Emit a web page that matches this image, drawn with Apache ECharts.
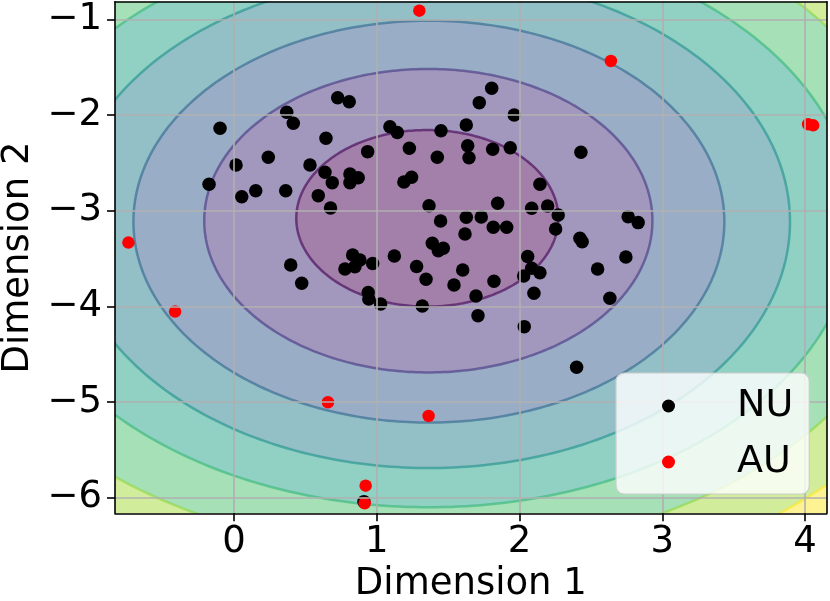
<!DOCTYPE html>
<html><head><meta charset="utf-8">
<script src="https://cdn.jsdelivr.net/npm/echarts@6/dist/echarts.min.js"></script>
<style>html,body{margin:0;padding:0;background:#fff}#c{width:830px;height:601px}</style>
</head><body><div id="c"></div>
<script>
// ---- data ----
const xTicks = [0, 1, 2, 3, 4];
const yTicks = [-6, -5, -4, -3, -2, -1];
const seriesNames = ['NU', 'AU'];

const nuX = [-0.175,-0.098,0.014,0.240,0.054,0.152,0.362,0.369,0.415,0.397,
  0.474,0.532,0.637,0.644,0.590,0.676,0.688,0.726,0.807,0.812,
  0.870,0.812,0.936,0.777,0.831,0.847,0.882,0.971,0.940,0.944,
  1.027,1.123,1.092,1.144,1.228,1.190,1.244,1.279,1.345,1.319,
  1.366,1.424,1.450,1.447,1.389,1.431,1.466,1.541,1.602,1.627,
  1.637,1.646,1.627,1.618,1.732,1.695,1.709,1.718,1.805,1.812,
  1.816,1.910,1.821,1.847,1.935,1.963,2.029,2.085,2.143,2.033,
  2.057,2.101,2.085,2.197,2.271,2.253,2.143,2.400,2.430,2.423,
  2.439,2.547,2.633,2.745,2.761,2.831,0.910];
const nuY = [-2.724,-2.139,-2.522,-2.442,-2.854,-2.791,-2.791,-1.972,-2.087,-3.567,
  -3.759,-2.522,-2.599,-2.243,-2.843,-2.972,-2.707,-1.819,-1.861,-2.617,
  -2.655,-2.707,-2.383,-3.609,-3.463,-3.585,-3.515,-3.552,-3.855,-3.923,
  -3.975,-3.473,-2.122,-2.183,-2.348,-2.700,-2.651,-3.583,-3.717,-3.996,
  -2.948,-2.442,-2.164,-3.108,-3.341,-3.419,-3.393,-3.776,-3.620,-2.105,
  -2.321,-2.446,-3.069,-3.243,-3.066,-3.891,-4.097,-1.871,-1.721,-2.358,
  -3.173,-3.173,-3.738,-2.923,-2.342,-2.000,-3.682,-3.602,-3.648,-4.212,
  -3.479,-3.863,-2.975,-2.951,-3.045,-3.191,-2.724,-4.636,-2.390,-3.288,
  -3.324,-3.609,-3.915,-3.484,-3.063,-3.125,-6.041];

const auX = [1.298, 2.640, 4.022, 4.057, -0.740, -0.413, 0.658, 1.363, 0.922, 0.915];
const auY = [-0.910, -1.436, -2.097, -2.108, -3.334, -4.055, -5.002, -5.145, -5.874, -6.058];

// contour levels (inner -> outer): centre and semi-axes in data units
const levelCx = [1.354, 1.361, 1.365, 1.365, 1.365, 1.365, 1.365];
const levelCy = [-3.080, -3.105, -3.115, -3.115, -3.115, -3.115, -3.115];
const levelRx = [0.918, 1.570, 2.070, 2.530, 2.985, 3.450, 3.910];
const levelRy = [0.923, 1.586, 2.100, 2.575, 2.985, 3.460, 3.920];

// ---- styles ----
const bandColors = ['#a280aa','#a298be','#9aadc6','#93bfc6','#90d1c3','#a5e0b6','#d1ed9b','#fef392'];
const lineColors = ['rgba(68,1,84,0.62)','rgba(69,55,129,0.62)','rgba(49,104,142,0.62)','rgba(33,145,140,0.62)',
  'rgba(53,183,121,0.62)','rgba(144,215,67,0.62)','rgba(253,231,37,0.62)'];
const FONT = 'DejaVu Sans';
const FS = 37;
const xMin = -0.834, xMax = 4.152, yMin = -6.163, yMax = -0.816;

const zip = (a, b) => a.map((v, i) => [v, b[i]]);
const minusFmt = v => (v < 0 ? '\u2212' : '') + Math.abs(v);

// draw outer levels first
const contourOrder = [-1];
for (let k = levelRx.length - 1; k >= 0; k--) contourOrder.push(k);

function renderContour(params, api) {
  const k = api.value(0);
  const cs = params.coordSys;
  if (k < 0) {
    return {type: 'rect', shape: {x: cs.x, y: cs.y, width: cs.width, height: cs.height},
      style: {fill: bandColors[bandColors.length - 1]}};
  }
  const pts = [];
  const N = 360;
  for (let i = 0; i < N; i++) {
    const a = i / N * 2 * Math.PI;
    pts.push(api.coord([levelCx[k] + levelRx[k] * Math.cos(a), levelCy[k] + levelRy[k] * Math.sin(a)]));
  }
  return {type: 'polygon', shape: {points: pts},
    style: {fill: bandColors[k], stroke: lineColors[k], lineWidth: 2.5}};
}

const axisCommon = {
  type: 'value',
  z: 3,
  axisLine: {show: true, onZero: false, lineStyle: {color: '#000', width: 1.6}},
  axisTick: {show: true, length: 8, lineStyle: {color: '#000', width: 1.6}},
  splitLine: {show: true, lineStyle: {color: '#b0b0b0', width: 1.6}},
  axisLabel: {color: '#000', fontFamily: FONT, fontSize: FS, formatter: minusFmt},
  nameTextStyle: {color: '#000', fontFamily: FONT, fontSize: FS}
};

const chart = echarts.init(document.getElementById('c'), null, {renderer: 'canvas'});
chart.setOption({
  animation: false,
  backgroundColor: '#fff',
  grid: {left: 115, top: 1.7, right: 3.3, bottom: 87.7, outerBoundsMode: 'none', containLabel: false},
  xAxis: [
    Object.assign({}, axisCommon, {
      min: xMin, max: xMax, position: 'bottom',
      axisTick: Object.assign({}, axisCommon.axisTick, {customValues: xTicks}),
      axisLabel: Object.assign({}, axisCommon.axisLabel, {customValues: xTicks, margin: 11}),
      name: 'Dimension 1', nameLocation: 'middle', nameGap: 46
    }),
    {type: 'value', min: xMin, max: xMax, position: 'top', z: 3,
      axisLine: {show: true, onZero: false, lineStyle: {color: '#000', width: 1.6}},
      axisTick: {show: false}, axisLabel: {show: false}, splitLine: {show: false}}
  ],
  yAxis: [
    Object.assign({}, axisCommon, {
      min: yMin, max: yMax, position: 'left',
      axisTick: Object.assign({}, axisCommon.axisTick, {customValues: yTicks}),
      axisLabel: Object.assign({}, axisCommon.axisLabel, {customValues: yTicks, margin: 13}),
      name: 'Dimension 2', nameLocation: 'middle', nameGap: 76
    }),
    {type: 'value', min: yMin, max: yMax, position: 'right', z: 3,
      axisLine: {show: true, onZero: false, lineStyle: {color: '#000', width: 1.6}},
      axisTick: {show: false}, axisLabel: {show: false}, splitLine: {show: false}}
  ],
  legend: {
    data: seriesNames,
    orient: 'vertical',
    left: 616, top: 373,
    padding: [14, 16, 13, 46],
    itemGap: 18,
    itemWidth: 13, itemHeight: 13,
    backgroundColor: 'rgba(255,255,255,0.8)',
    borderColor: '#cccccc', borderWidth: 1.2, borderRadius: 8,
    z: 10,
    formatter: n => '{t|' + n + '}',
    textStyle: {rich: {t: {fontFamily: FONT, fontSize: 38, lineHeight: 38, color: '#000', padding: [0, 0, 0, 57]}}}
  },
  series: [
    {type: 'custom', z: 1, clip: true, silent: true, renderItem: renderContour,
      data: contourOrder.map(k => [k]), encode: {x: 0}, xAxisIndex: 0, yAxisIndex: 0},
    {name: seriesNames[0], type: 'scatter', z: 2, symbol: 'circle', symbolSize: 13.5,
      itemStyle: {color: '#000', opacity: 1}, data: zip(nuX, nuY)},
    {name: seriesNames[1], type: 'scatter', z: 2.5, symbol: 'circle', symbolSize: 12.5,
      itemStyle: {color: '#ff0000', opacity: 1}, data: zip(auX, auY)}
  ]
});
</script>
</body></html>
